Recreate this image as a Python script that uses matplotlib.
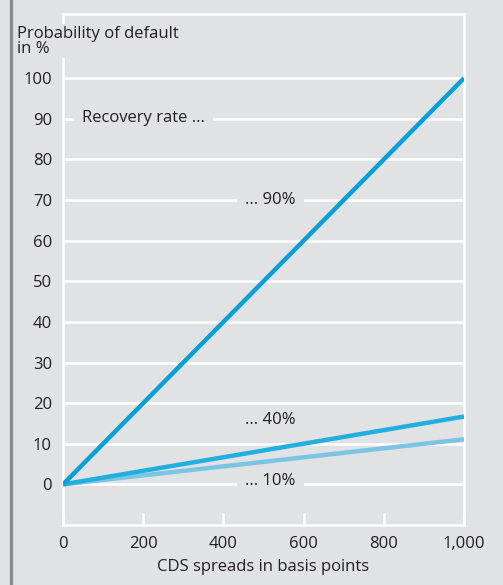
import matplotlib
matplotlib.use("Agg")
import matplotlib.pyplot as plt
from matplotlib.lines import Line2D

plt.rcParams['font.family'] = ['Open Sans', 'DejaVu Sans']

# Data
spreads = [0, 1000]
pd_rr90 = [0, 100]
pd_rr40 = [0, 16.7]
pd_rr10 = [0, 11.1]
x_ticks = [0, 200, 400, 600, 800, 1000]
x_tick_labels = ['0', '200', '400', '600', '800', '1,000']
y_ticks = [0, 10, 20, 30, 40, 50, 60, 70, 80, 90, 100]
labels = ['... 90%', '... 40%', '... 10%']

BG = '#e1e2e4'
TXT = '#231f20'
C90 = '#0a9fd8'
C40 = '#20afdf'
C10 = '#7cc4e4'
FS = 12

fig = plt.figure(figsize=(5.03, 5.85), dpi=100, facecolor=BG)
ax = fig.add_axes([63/503, 60/585, (464-63)/503, (525-14)/585])
ax.set_facecolor(BG)

ax.set_xlim(0, 1000)
ax.set_ylim(-10, 115.8)

# grid lines
for v in y_ticks:
    ax.axhline(v, color='white', lw=1.8, zorder=1)

for s in ax.spines.values():
    s.set_color('white')
    s.set_linewidth(1.8)

ax.plot(spreads, pd_rr10, color=C10, lw=3.2, solid_capstyle='butt', zorder=4)
ax.plot(spreads, pd_rr40, color=C40, lw=3.2, solid_capstyle='butt', zorder=4)
ax.plot(spreads, pd_rr90, color=C90, lw=3.2, solid_capstyle='butt', zorder=4)

ax.set_xticks(x_ticks)
ax.set_xticklabels(x_tick_labels)
ax.set_yticks(y_ticks)
ax.set_yticklabels([str(v) for v in y_ticks])
ax.tick_params(axis='x', which='major', direction='in', length=9, width=1.8,
               color='white', pad=8, labelsize=FS, labelcolor=TXT)
ax.tick_params(axis='y', which='major', length=0, pad=8, labelsize=FS, labelcolor=TXT)
ax.set_xticks([0, 1000], minor=True)
ax.tick_params(axis='x', which='minor', direction='out', length=7.5, width=1.8, color='white')
ax.tick_params(axis='y', which='minor', length=0)

ax.set_xlabel('CDS spreads in basis points', fontsize=FS, color=TXT, labelpad=5)

box = dict(boxstyle='square,pad=0.5', facecolor=BG, edgecolor='none')
ax.text(47, 90.3, 'Recovery rate ...', fontsize=FS, color=TXT, va='center', ha='left',
        bbox=box, zorder=3)
ax.text(454, 70, labels[0], fontsize=FS, color=TXT, va='center', ha='left', bbox=box, zorder=3)
ax.text(454, 15.8, labels[1], fontsize=FS, color=TXT, va='center', ha='left', zorder=3)
ax.text(454, 0.8, labels[2], fontsize=FS, color=TXT, va='center', ha='left', bbox=box, zorder=3)

fig.text(17/503, 1 - 26/585, 'Probability of default\nin %', fontsize=FS, color=TXT,
         ha='left', va='top', linespacing=0.9,
         bbox=dict(boxstyle='square,pad=0.1', facecolor=BG, edgecolor='none'), zorder=10)

# left decorative bar
fig.add_artist(Line2D([11/503, 11/503], [0, 1], color='#8c8c8c', lw=2.4, transform=fig.transFigure))

fig.savefig('out.png', dpi=100, facecolor=BG)
